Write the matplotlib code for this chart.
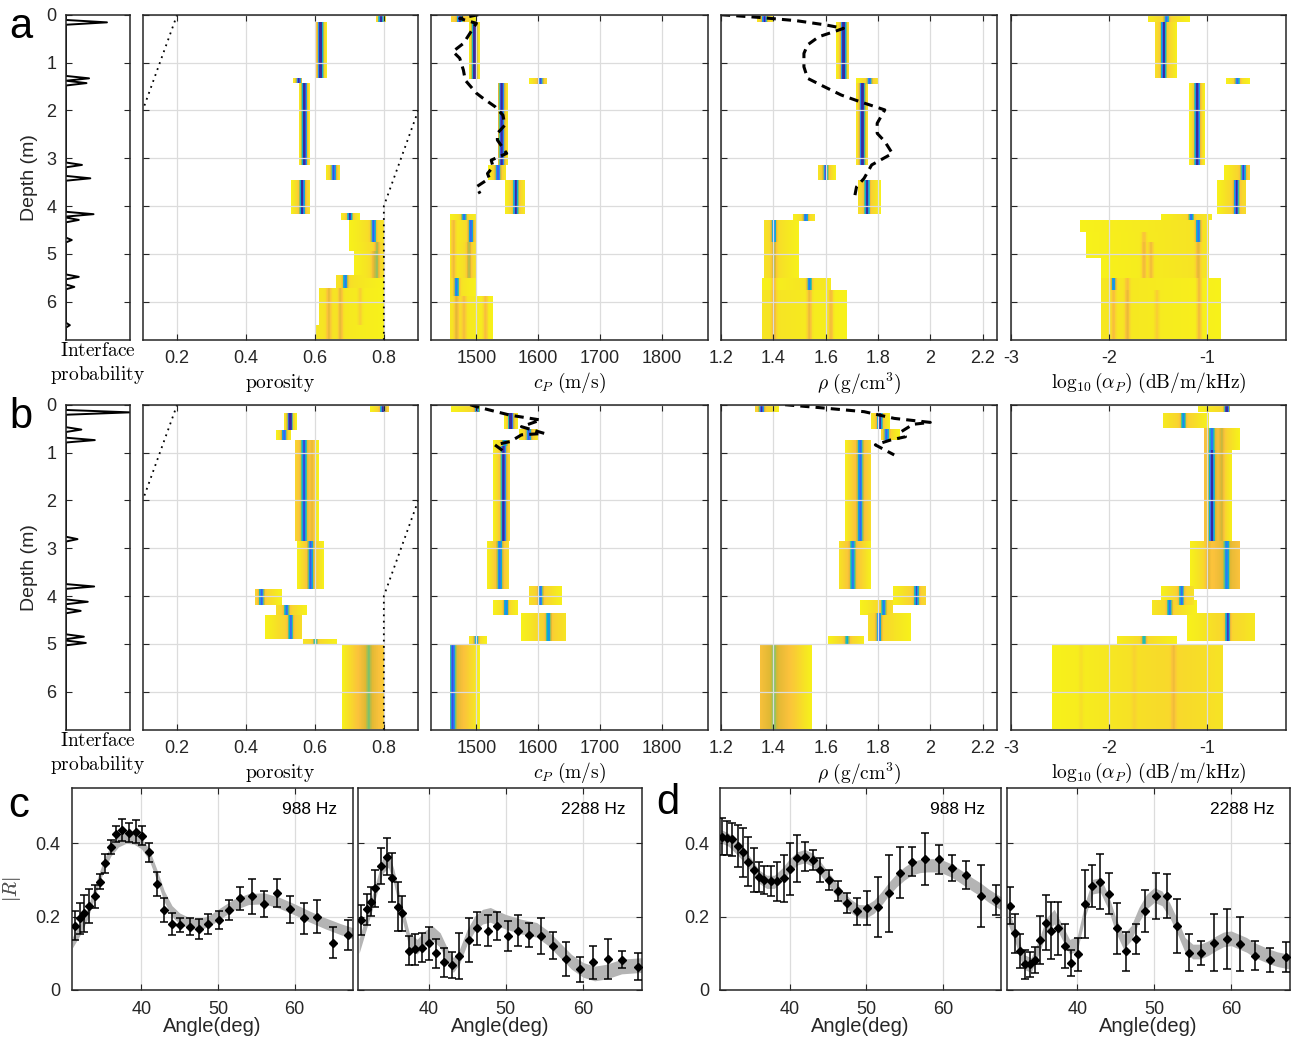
import numpy as np
import matplotlib.pyplot as plt
from matplotlib.colors import LinearSegmentedColormap

plt.rcParams['font.family'] = ['Liberation Sans', 'DejaVu Sans']
plt.rcParams['mathtext.fontset'] = 'cm'

ZMAX = 6.8

# ---- interface probability spikes (depth m, probability) ----
iface_a_depth = [0.16, 1.33, 1.43, 3.14, 3.42, 4.17, 4.29, 4.71, 5.48, 5.69, 6.49]
iface_a_prob = [0.64, 0.36, 0.32, 0.25, 0.38, 0.43, 0.20, 0.09, 0.20, 0.13, 0.06]
iface_b_depth = [0.16, 0.52, 0.74, 2.81, 3.80, 4.12, 4.31, 4.85, 4.98]
iface_b_prob = [1.00, 0.24, 0.45, 0.18, 0.44, 0.34, 0.23, 0.28, 0.31]

# ---- posterior layers: z_top, z_bot, lo, hi, base level, [(peak value, strength)] ----
por_a = [
    (0.00, 0.16, 0.775, 0.805, 0.20, [(0.790, 0.90)]),
    (0.17, 1.33, 0.600, 0.634, 0.22, [(0.615, 1.00)]),
    (1.33, 1.43, 0.535, 0.562, 0.20, [(0.552, 0.80)]),
    (1.43, 3.15, 0.554, 0.584, 0.22, [(0.568, 0.95)]),
    (3.15, 3.45, 0.629, 0.671, 0.20, [(0.653, 0.70)]),
    (3.45, 4.18, 0.528, 0.584, 0.18, [(0.562, 0.85)]),
    (4.15, 4.30, 0.673, 0.730, 0.15, [(0.700, 0.80)]),
    (4.30, 4.75, 0.697, 0.798, 0.10, [(0.769, 0.75)]),
    (4.75, 4.95, 0.697, 0.798, 0.10, [(0.779, 0.25)]),
    (4.95, 5.50, 0.712, 0.798, 0.10, [(0.779, 0.25), (0.769, 0.15)]),
    (5.45, 5.72, 0.658, 0.798, 0.08, [(0.687, 0.70)]),
    (5.72, 6.50, 0.610, 0.798, 0.06, [(0.639, 0.18), (0.673, 0.20), (0.730, 0.10)]),
    (6.50, 6.80, 0.600, 0.798, 0.06, [(0.639, 0.18), (0.673, 0.20)]),
]
cp_a = [
    (0.00, 0.16, 1460, 1500, 0.20, [(1473, 0.90)]),
    (0.17, 1.35, 1488, 1506, 0.22, [(1497, 1.00)]),
    (1.33, 1.45, 1585, 1615, 0.18, [(1604, 0.70)]),
    (1.43, 3.15, 1534, 1552, 0.22, [(1541, 0.85)]),
    (3.15, 3.45, 1520, 1548, 0.20, [(1535, 0.70)]),
    (3.45, 4.18, 1546, 1579, 0.18, [(1564, 0.80)]),
    (4.18, 4.30, 1457, 1499, 0.10, [(1480, 0.70)]),
    (4.30, 4.75, 1457, 1499, 0.10, [(1491, 0.75), (1463, 0.20)]),
    (4.75, 5.50, 1457, 1499, 0.10, [(1488, 0.25), (1463, 0.20)]),
    (5.50, 5.88, 1457, 1499, 0.08, [(1468, 0.70)]),
    (5.88, 6.80, 1457, 1527, 0.06, [(1468, 0.20), (1480, 0.15), (1515, 0.18)]),
]
rho_a = [
    (0.00, 0.16, 1.337, 1.401, 0.20, [(1.365, 0.80)]),
    (0.17, 1.35, 1.639, 1.689, 0.22, [(1.668, 1.00)]),
    (1.33, 1.45, 1.718, 1.804, 0.15, [(1.768, 0.70)]),
    (1.43, 3.15, 1.715, 1.761, 0.22, [(1.740, 0.90)]),
    (3.15, 3.45, 1.571, 1.639, 0.20, [(1.600, 0.70)]),
    (3.45, 4.18, 1.722, 1.811, 0.18, [(1.758, 0.80)]),
    (4.17, 4.32, 1.473, 1.560, 0.12, [(1.524, 0.70)]),
    (4.30, 4.75, 1.365, 1.495, 0.10, [(1.401, 0.70)]),
    (4.75, 5.50, 1.365, 1.495, 0.10, [(1.401, 0.25)]),
    (5.50, 5.75, 1.358, 1.620, 0.06, [(1.538, 0.70), (1.401, 0.20)]),
    (5.75, 6.80, 1.358, 1.682, 0.06, [(1.401, 0.20), (1.538, 0.20), (1.620, 0.20)]),
]
alpha_a = [
    (0.00, 0.16, -1.61, -1.18, 0.12, [(-1.42, 0.70)]),
    (0.17, 1.33, -1.54, -1.31, 0.18, [(-1.45, 0.85)]),
    (1.33, 1.45, -0.82, -0.58, 0.12, [(-0.70, 0.70)]),
    (1.43, 3.15, -1.19, -1.03, 0.20, [(-1.11, 1.00)]),
    (3.15, 3.45, -0.84, -0.57, 0.15, [(-0.64, 0.75)]),
    (3.45, 4.18, -0.91, -0.61, 0.15, [(-0.71, 0.85)]),
    (4.17, 4.30, -1.48, -0.96, 0.10, [(-1.17, 0.70)]),
    (4.30, 4.55, -2.30, -0.99, 0.06, [(-1.10, 0.75)]),
    (4.55, 4.75, -2.24, -0.99, 0.06, [(-1.10, 0.75), (-1.65, 0.15)]),
    (4.75, 5.10, -2.24, -0.99, 0.06, [(-1.10, 0.20), (-1.65, 0.20), (-1.58, 0.18)]),
    (5.10, 5.50, -2.09, -0.99, 0.06, [(-1.10, 0.20), (-1.65, 0.20), (-1.58, 0.18)]),
    (5.50, 5.75, -2.09, -0.87, 0.05, [(-1.96, 0.70), (-1.82, 0.15), (-1.09, 0.20)]),
    (5.75, 6.80, -2.09, -0.87, 0.05, [(-1.96, 0.15), (-1.82, 0.20), (-1.52, 0.10), (-1.09, 0.20)]),
]
por_b = [
    (0.00, 0.17, 0.759, 0.813, 0.18, [(0.796, 0.95)]),
    (0.18, 0.55, 0.507, 0.545, 0.20, [(0.526, 1.00)]),
    (0.55, 0.75, 0.487, 0.528, 0.18, [(0.509, 0.70)]),
    (0.75, 2.85, 0.541, 0.610, 0.25, [(0.567, 0.65), (0.591, 0.12)]),
    (2.85, 3.85, 0.547, 0.624, 0.22, [(0.586, 0.65)]),
    (3.85, 4.20, 0.424, 0.504, 0.15, [(0.443, 0.70)]),
    (4.20, 4.40, 0.487, 0.576, 0.15, [(0.516, 0.65)]),
    (4.40, 4.90, 0.454, 0.562, 0.15, [(0.528, 0.65)]),
    (4.90, 5.00, 0.565, 0.663, 0.12, [(0.600, 0.50)]),
    (5.00, 6.80, 0.677, 0.798, 0.30, [(0.755, 0.10)]),
]
cp_b = [
    (0.00, 0.16, 1460, 1506, 0.12, [(1501, 0.80)]),
    (0.18, 0.52, 1544, 1568, 0.20, [(1556, 1.00)]),
    (0.52, 0.75, 1570, 1602, 0.18, [(1585, 0.70)]),
    (0.75, 0.88, 1527, 1555, 0.15, [(1546, 0.60)]),
    (0.88, 2.85, 1527, 1555, 0.22, [(1544, 0.85)]),
    (2.85, 3.85, 1517, 1554, 0.22, [(1538, 0.60)]),
    (3.80, 4.20, 1585, 1639, 0.15, [(1604, 0.65)]),
    (4.10, 4.40, 1527, 1568, 0.12, [(1548, 0.65)]),
    (4.35, 4.95, 1573, 1645, 0.15, [(1617, 0.55)]),
    (4.85, 5.00, 1488, 1517, 0.12, [(1500, 0.65)]),
    (5.00, 6.80, 1457, 1506, 0.30, [(1462, 0.60)]),
]
rho_b = [
    (0.00, 0.16, 1.330, 1.423, 0.15, [(1.355, 0.85)]),
    (0.18, 0.52, 1.776, 1.847, 0.18, [(1.807, 1.00)]),
    (0.52, 0.75, 1.812, 1.883, 0.15, [(1.833, 0.70)]),
    (0.75, 2.85, 1.672, 1.776, 0.25, [(1.732, 0.60)]),
    (2.85, 3.85, 1.653, 1.776, 0.22, [(1.704, 0.55)]),
    (3.80, 4.20, 1.855, 1.984, 0.15, [(1.948, 0.75)]),
    (4.10, 4.40, 1.732, 1.855, 0.12, [(1.822, 0.65)]),
    (4.35, 4.95, 1.761, 1.927, 0.12, [(1.804, 0.75)]),
    (4.85, 5.02, 1.610, 1.747, 0.15, [(1.682, 0.45)]),
    (5.02, 6.80, 1.351, 1.548, 0.30, [(1.401, 0.10)]),
]
alpha_b = [
    (0.00, 0.16, -1.10, -0.77, 0.12, [(-0.81, 1.00)]),
    (0.18, 0.50, -1.46, -0.99, 0.15, [(-1.25, 0.60)]),
    (0.50, 0.95, -1.04, -0.68, 0.25, [(-0.96, 0.55), (-0.86, 0.15)]),
    (0.95, 2.85, -1.04, -0.75, 0.28, [(-0.96, 0.80), (-0.86, 0.15)]),
    (2.85, 3.85, -1.18, -0.67, 0.28, [(-0.81, 0.50), (-1.00, 0.15)]),
    (3.80, 4.20, -1.48, -1.14, 0.15, [(-1.27, 0.65)]),
    (4.10, 4.40, -1.57, -1.11, 0.12, [(-1.39, 0.65)]),
    (4.35, 4.95, -1.21, -0.52, 0.12, [(-0.80, 0.80)]),
    (4.85, 5.00, -1.92, -1.31, 0.10, [(-1.65, 0.45)]),
    (5.00, 6.80, -2.58, -0.85, 0.10, [(-1.35, 0.12), (-2.29, 0.05), (-1.75, 0.05)]),
]

# porosity prior bounds (dotted)
por_lower_z = [0.0, 2.0]
por_lower_x = [0.2, 0.1]
por_upper_z = [2.0, 4.0, 6.8]
por_upper_x = [0.9, 0.8, 0.8]

# core measurements (dashed)
cp_core_a_z = [0.0, 0.08, 0.18, 0.36, 0.6, 0.77, 0.91, 1.16, 1.37, 1.64, 1.73, 1.92, 2.1, 2.31,
               2.48, 2.62, 2.9, 3.04, 3.18, 3.32, 3.42, 3.6, 3.74]
cp_core_a = [1503, 1473, 1500, 1491, 1479, 1462, 1473, 1479, 1482, 1500, 1509, 1530, 1543, 1546,
             1534, 1534, 1549, 1524, 1527, 1518, 1521, 1500, 1506]
rho_core_a_z = [0.0, 0.056, 0.125, 0.216, 0.286, 0.355, 0.46, 0.63, 0.81, 1.09, 1.33, 1.49, 1.68,
                1.82, 1.99, 2.27, 2.48, 2.65, 2.9, 3.14, 3.42, 3.6, 3.8]
rho_core_a = [1.2, 1.344, 1.488, 1.603, 1.668, 1.632, 1.574, 1.531, 1.517, 1.517, 1.531, 1.589, 1.66,
              1.732, 1.826, 1.797, 1.797, 1.826, 1.855, 1.776, 1.747, 1.718, 1.711]
cp_core_b_z = [0.0, 0.04, 0.11, 0.22, 0.32, 0.46, 0.6, 0.63, 0.77, 0.84, 1.02]
cp_core_b = [1490, 1500, 1521, 1555, 1604, 1573, 1610, 1573, 1555, 1530, 1549]
rho_core_b_z = [0.0, 0.06, 0.146, 0.286, 0.37, 0.41, 0.56, 0.67, 0.74, 0.84, 1.05]
rho_core_b = [1.445, 1.574, 1.747, 1.862, 2.0, 1.934, 1.89, 1.905, 1.847, 1.79, 1.862]

# ---- reflection coefficient data ----
c1_ang = [31.3, 32.0, 32.5, 33.2, 33.9, 34.6, 35.2, 36.0, 36.7, 37.5, 38.4, 39.3, 40.1, 41.0, 42.0, 43.0,
          44.0, 45.1, 46.3, 47.5, 48.7, 50.1, 51.5, 52.9, 54.5, 56.0, 57.7, 59.4, 61.2, 63.0, 65.0, 67.0]
c1_R = [0.175, 0.195, 0.209, 0.229, 0.255, 0.295, 0.345, 0.391, 0.425, 0.436, 0.429, 0.432, 0.421, 0.375,
        0.288, 0.218, 0.180, 0.176, 0.173, 0.166, 0.180, 0.191, 0.218, 0.250, 0.256, 0.234, 0.265, 0.220,
        0.195, 0.200, 0.129, 0.150]
c1_err = [0.040, 0.042, 0.050, 0.047, 0.032, 0.020, 0.027, 0.019, 0.022, 0.030, 0.026, 0.032, 0.026, 0.025,
          0.033, 0.032, 0.030, 0.019, 0.024, 0.027, 0.027, 0.024, 0.027, 0.032, 0.048, 0.035, 0.038, 0.037,
          0.041, 0.045, 0.042, 0.041]
c1_band_ang = [31.0, 32, 33, 34, 35, 36, 37, 38, 39, 40, 41, 42, 43, 44, 45, 46, 47, 48, 49, 50, 52, 54,
               56, 58, 60, 62, 64, 66, 67.6]
c1_band = [0.13, 0.165, 0.21, 0.275, 0.335, 0.38, 0.405, 0.415, 0.413, 0.40, 0.37, 0.315, 0.255, 0.215,
           0.195, 0.185, 0.18, 0.182, 0.19, 0.205, 0.232, 0.248, 0.25, 0.238, 0.22, 0.20, 0.182, 0.166, 0.155]
c1_hw = 0.015

c2_ang = [31.3, 32.0, 32.5, 33.1, 33.9, 34.6, 35.2, 36.0, 36.6, 37.5, 38.3, 39.2, 40.1, 41.0, 42.0, 43.0,
          44.0, 45.3, 46.3, 47.7, 48.8, 50.3, 51.6, 53.0, 54.5, 56.1, 57.8, 59.6, 61.3, 63.2, 65.1, 67.1]
c2_R = [0.191, 0.220, 0.241, 0.277, 0.338, 0.364, 0.306, 0.227, 0.209, 0.107, 0.111, 0.115, 0.127, 0.100,
        0.075, 0.068, 0.093, 0.136, 0.168, 0.162, 0.175, 0.147, 0.162, 0.150, 0.147, 0.121, 0.085, 0.057,
        0.075, 0.085, 0.082, 0.064]
c2_err = [0.040, 0.043, 0.040, 0.050, 0.050, 0.050, 0.067, 0.067, 0.048, 0.040, 0.043, 0.040, 0.045, 0.040,
          0.039, 0.035, 0.062, 0.059, 0.044, 0.042, 0.039, 0.042, 0.043, 0.032, 0.049, 0.037, 0.047, 0.034,
          0.044, 0.055, 0.023, 0.036]
c2_band_ang = [31.0, 32, 33, 34, 34.8, 35.5, 36.5, 37.5, 38.5, 39.5, 40.5, 41.5, 42.5, 43.2, 44, 45, 46,
               47, 48, 49, 50, 52, 54, 55.5, 57, 58.5, 60, 61.5, 63, 65, 67.6]
c2_band = [0.12, 0.19, 0.26, 0.336, 0.355, 0.31, 0.218, 0.136, 0.118, 0.141, 0.155, 0.136, 0.091, 0.068,
           0.091, 0.145, 0.182, 0.20, 0.205, 0.195, 0.186, 0.173, 0.164, 0.141, 0.109, 0.077, 0.055, 0.045,
           0.05, 0.064, 0.068]
c2_hw = 0.02

d1_ang = [31.2, 31.8, 32.5, 33.2, 33.9, 34.6, 35.3, 36.0, 36.7, 37.5, 38.3, 39.2, 40.1, 41.0, 42.0, 43.0,
          44.0, 45.2, 46.3, 47.5, 48.8, 50.1, 51.5, 53.0, 54.4, 56.0, 57.7, 59.5, 61.2, 63.0, 65.0, 67.0]
d1_R = [0.418, 0.415, 0.411, 0.393, 0.375, 0.350, 0.327, 0.309, 0.300, 0.297, 0.297, 0.305, 0.329, 0.359,
        0.364, 0.355, 0.327, 0.300, 0.270, 0.238, 0.215, 0.223, 0.227, 0.264, 0.320, 0.350, 0.357, 0.356,
        0.332, 0.314, 0.256, 0.245]
d1_err = [0.050, 0.047, 0.045, 0.057, 0.066, 0.066, 0.059, 0.041, 0.037, 0.041, 0.053, 0.064, 0.071, 0.064,
          0.040, 0.027, 0.032, 0.028, 0.028, 0.027, 0.037, 0.047, 0.082, 0.105, 0.070, 0.039, 0.072, 0.039,
          0.036, 0.038, 0.084, 0.041]
d1_band_ang = [31.0, 32, 33, 34, 35, 36, 37, 38, 39, 40, 41, 42, 43, 44, 45, 46, 47, 48, 49, 50, 51, 52,
               53, 54, 55, 56, 57, 58, 59, 60, 61, 62, 63, 64, 65, 66, 67.6]
d1_band = [0.42, 0.41, 0.39, 0.368, 0.34, 0.309, 0.295, 0.295, 0.314, 0.34, 0.359, 0.365, 0.355, 0.332,
           0.305, 0.277, 0.25, 0.229, 0.215, 0.214, 0.227, 0.25, 0.277, 0.30, 0.318, 0.332, 0.338, 0.34,
           0.34, 0.336, 0.327, 0.314, 0.30, 0.286, 0.273, 0.257, 0.236]
d1_hw = 0.018

d2_ang = [31.2, 31.9, 32.5, 33.2, 33.9, 34.5, 35.2, 35.9, 36.6, 37.5, 38.4, 39.2, 40.1, 41.0, 41.9, 43.0,
          44.1, 45.2, 46.3, 47.6, 48.8, 50.2, 51.6, 52.9, 54.5, 56.1, 57.7, 59.5, 61.2, 63.1, 65.0, 67.1]
d2_R = [0.230, 0.155, 0.107, 0.070, 0.070, 0.082, 0.136, 0.184, 0.162, 0.168, 0.120, 0.073, 0.097, 0.234,
        0.284, 0.295, 0.262, 0.168, 0.105, 0.139, 0.216, 0.256, 0.256, 0.175, 0.102, 0.100, 0.129, 0.139,
        0.125, 0.094, 0.082, 0.089]
d2_err = [0.050, 0.053, 0.047, 0.039, 0.034, 0.035, 0.065, 0.074, 0.077, 0.073, 0.060, 0.036, 0.046, 0.092,
          0.058, 0.075, 0.056, 0.070, 0.053, 0.042, 0.057, 0.063, 0.061, 0.073, 0.050, 0.033, 0.078, 0.081,
          0.074, 0.040, 0.032, 0.041]
d2_band_ang = [31.0, 32, 33, 34, 35, 36, 37, 38, 39, 40, 41, 42, 43, 44, 45, 46, 47, 48, 49, 50, 51, 52,
               53, 54, 55, 56, 57, 58, 59, 60, 61, 62, 63, 64, 65, 66, 67.6]
d2_band = [0.20, 0.145, 0.077, 0.068, 0.118, 0.177, 0.20, 0.159, 0.118, 0.127, 0.218, 0.282, 0.286, 0.241,
           0.177, 0.132, 0.155, 0.205, 0.241, 0.259, 0.25, 0.218, 0.173, 0.123, 0.105, 0.105, 0.114, 0.127,
           0.138, 0.141, 0.132, 0.123, 0.109, 0.10, 0.091, 0.084, 0.077]
d2_hw = 0.02

# ---- colormap (reversed parula-like, white below cutoff) ----
cm_pos = [0.0, 0.08, 0.22, 0.32, 0.42, 0.52, 0.62, 0.75, 0.87, 1.0]
cm_col = [(0.977, 0.984, 0.080), (0.965, 0.910, 0.130), (0.985, 0.760, 0.235), (0.870, 0.720, 0.200),
          (0.560, 0.760, 0.380), (0.200, 0.760, 0.640), (0.040, 0.690, 0.820), (0.130, 0.560, 0.930),
          (0.240, 0.380, 0.960), (0.230, 0.170, 0.620)]
cmap = LinearSegmentedColormap.from_list('rparula', list(zip(cm_pos, cm_col)))
cmap.set_bad('white', 0)

AX_COL = '#262626'
GRID_COL = '#dcdcdc'
W, H = 1293, 1043


def density(layers, xlim, nx=420, nz=480):
    x = np.linspace(xlim[0], xlim[1], nx)
    z = np.linspace(0, ZMAX, nz)
    img = np.zeros((nz, nx))
    sig = 0.006 * (xlim[1] - xlim[0])
    for z0, z1, lo, hi, base, peaks in layers:
        rows = (z >= z0) & (z < z1)
        c0 = peaks[0][0]
        half = max(c0 - lo, hi - c0)
        prof = 0.04 + base * (1 - np.abs(x - c0) / half)
        for c, s in peaks:
            prof = prof + s * np.exp(-0.5 * ((x - c) / sig) ** 2)
        prof = np.where((x >= lo) & (x <= hi), np.clip(prof, 0.01, 1), 0)
        img[rows] = np.maximum(img[rows], prof)
    return np.ma.masked_where(img <= 0, img)


def add_ax(x0, x1, ytop, ybot):
    return fig.add_axes([x0 / W, 1 - ybot / H, (x1 - x0) / W, (ybot - ytop) / H])


def style(ax, grid=True, pad=7):
    for s in ax.spines.values():
        s.set_color(AX_COL)
        s.set_linewidth(1.1)
    ax.tick_params(direction='in', top=True, right=True, length=4, width=0.8,
                   colors=AX_COL, labelsize=13, pad=pad)
    if grid:
        ax.grid(True, color=GRID_COL, lw=0.9)


fig = plt.figure(figsize=(12.93, 10.43), dpi=100)

rows = [
    dict(top=14.7, bot=340.0, iface=(iface_a_depth, iface_a_prob),
         layers=[por_a, cp_a, rho_a, alpha_a],
         core=[None, (cp_core_a, cp_core_a_z), (rho_core_a, rho_core_a_z), None], letter='a'),
    dict(top=404.7, bot=730.0, iface=(iface_b_depth, iface_b_prob),
         layers=[por_b, cp_b, rho_b, alpha_b],
         core=[None, (cp_core_b, cp_core_b_z), (rho_core_b, rho_core_b_z), None], letter='b'),
]
col_x = [(142.7, 418.3), (431.3, 708.0), (721.0, 997.0), (1010.7, 1286.0)]
col_xlim = [(0.1, 0.9), (1427, 1875), (1.2, 2.255), (-3.0, -0.2)]
col_ticks = [[0.2, 0.4, 0.6, 0.8], [1500, 1600, 1700, 1800], [1.2, 1.4, 1.6, 1.8, 2.0, 2.2], [-3, -2, -1]]
col_ticklabels = [['0.2', '0.4', '0.6', '0.8'], ['1500', '1600', '1700', '1800'],
                  ['1.2', '1.4', '1.6', '1.8', '2', '2.2'], ['-3', '-2', '-1']]
col_labels = [r'$\mathrm{porosity}$', r'$c_P\ (\mathrm{m/s})$', r'$\rho\ (\mathrm{g/cm^3})$',
              r'$\log_{10}(\alpha_P)\ (\mathrm{dB/m/kHz})$']

for row in rows:
    top, bot = row['top'], row['bot']
    hpx = bot - top
    # interface probability
    ax = add_ax(66, 130, top, bot)
    style(ax, grid=False, pad=7)
    dz = 0.05
    px, pz = [0.0], [0.0]
    for d, p in sorted(zip(*row['iface'])):
        px += [0.0, p, 0.0]
        pz += [d - dz, d, d + dz]
    px.append(0.0)
    pz.append(ZMAX)
    ax.plot(px, pz, color='k', lw=1.4)
    ax.set_xlim(0, 1)
    ax.set_ylim(ZMAX, 0)
    ax.set_xticks([])
    ax.set_yticks(range(7))
    ax.set_xlabel('$\\mathrm{Interface}$\n$\\mathrm{probability}$', fontsize=14, va='center',
                  linespacing=1.25)
    ax.xaxis.set_label_coords(0.5, -24.0 / hpx)
    fig.text(30 / W, 1 - (top + hpx / 2) / H, 'Depth (m)', rotation=90, fontsize=14,
             ha='center', va='center', color=AX_COL)
    fig.text(21 / W, 1 - (top + 12) / H, row['letter'], fontsize=30, ha='center', va='center')

    for k in range(4):
        ax = add_ax(col_x[k][0], col_x[k][1], top, bot)
        style(ax)
        xl = col_xlim[k]
        img = density(row['layers'][k], xl)
        ax.imshow(img, extent=[xl[0], xl[1], ZMAX, 0], aspect='auto', cmap=cmap,
                  vmin=0, vmax=1, interpolation='nearest', zorder=0)
        if k == 0:
            ax.plot(por_lower_x, por_lower_z, color='k', lw=1.3, ls=(0, (1, 2.5)))
            ax.plot(por_upper_x, por_upper_z, color='k', lw=1.3, ls=(0, (1, 2.5)))
        if row['core'][k] is not None:
            cv, cz = row['core'][k]
            ax.plot(cv, cz, color='k', lw=2.2, ls=(0, (3, 2)))
        ax.set_xlim(*xl)
        ax.set_ylim(ZMAX, 0)
        ax.set_xticks(col_ticks[k])
        ax.set_xticklabels(col_ticklabels[k])
        ax.set_yticks(range(7))
        ax.set_yticklabels([])
        ax.set_xlabel(col_labels[k], fontsize=14, va='center')
        ax.xaxis.set_label_coords(0.5, -43.0 / hpx)

# ---- reflection coefficient panels ----
panels = [
    (71.7, 352.7, c1_ang, c1_R, c1_err, c1_band_ang, c1_band, c1_hw, '988 Hz', True),
    (358.3, 641.7, c2_ang, c2_R, c2_err, c2_band_ang, c2_band, c2_hw, '2288 Hz', False),
    (720.0, 1001.0, d1_ang, d1_R, d1_err, d1_band_ang, d1_band, d1_hw, '988 Hz', True),
    (1007.3, 1289.7, d2_ang, d2_R, d2_err, d2_band_ang, d2_band, d2_hw, '2288 Hz', False),
]
for x0, x1, ang, R, err, bang, band, hw, freq, first in panels:
    ax = add_ax(x0, x1, 788.3, 990.0)
    style(ax, pad=8)
    bc = np.array(band)
    ax.fill_between(bang, bc - hw, bc + hw, color='#b4b4b4', lw=0, zorder=2)
    ax.errorbar(ang, R, yerr=err, fmt='D', ms=4, color='k', ecolor='k', elinewidth=1.1,
                capsize=3, capthick=1.1, zorder=3)
    ax.set_xlim(30.9, 67.6)
    ax.set_ylim(0, 0.55)
    ax.set_xticks([40, 50, 60])
    ax.set_yticks([0, 0.2, 0.4])
    if first:
        ax.set_yticklabels(['0', '0.2', '0.4'])
        ax.set_ylabel(r'$|R|$', fontsize=14, color='#555555')
        ax.yaxis.set_label_coords(-(x0 - 23) / (x1 - x0), 0.5)
    else:
        ax.set_yticklabels([])
    ax.set_xlabel('Angle(deg)', fontsize=14.5, va='center', color=AX_COL)
    ax.xaxis.set_label_coords(0.5, -(1027.0 - 990.0) / (990.0 - 788.3))
    ax.text(0.945, 0.895, freq, transform=ax.transAxes, ha='right', va='center', fontsize=12.5,
            color='k')

fig.text(19 / W, 1 - 806 / H, 'c', fontsize=30, ha='center', va='center')
fig.text(668 / W, 1 - 803 / H, 'd', fontsize=30, ha='center', va='center')

fig.savefig('out.png', dpi=100)
